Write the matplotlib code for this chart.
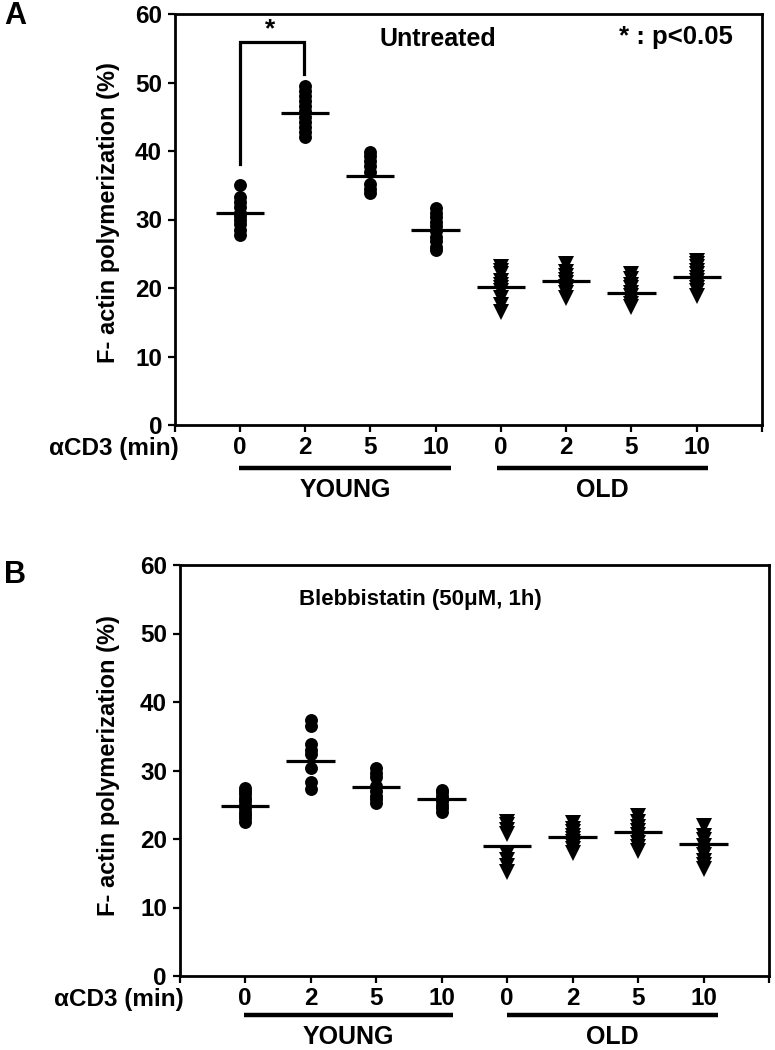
import matplotlib
matplotlib.use("Agg")
import matplotlib.pyplot as plt
import numpy as np

plt.rcParams['font.family'] = ['Liberation Sans', 'DejaVu Sans']
plt.rcParams['font.weight'] = 'bold'

groups = ["0", "2", "5", "10", "0", "2", "5", "10"]
cohorts = ["YOUNG", "OLD"]

# Panel A (untreated)
a_young0 = [35.0, 33.3, 32.5, 31.8, 31.0, 30.5, 30.0, 29.3, 28.5, 27.8]
a_young2 = [49.5, 48.8, 48.0, 47.3, 46.5, 45.8, 45.0, 44.3, 43.5, 42.8, 42.0]
a_young5 = [39.8, 39.2, 38.5, 37.8, 37.0, 35.2, 34.5, 33.8]
a_young10 = [31.7, 31.0, 30.3, 29.6, 29.0, 28.3, 27.5, 26.8, 26.0, 25.5]
a_old0 = [23.0, 22.5, 22.0, 21.0, 20.5, 20.0, 19.5, 18.5, 17.5, 16.5]
a_old2 = [23.5, 22.3, 21.8, 21.2, 20.7, 20.2, 19.7, 19.2, 18.6]
a_old5 = [22.0, 21.3, 20.5, 20.0, 19.3, 18.8, 18.3, 17.7, 17.2]
a_old10 = [24.0, 23.5, 23.0, 22.5, 22.0, 21.5, 21.0, 20.5, 20.0, 19.5, 18.8]
a_means = [31.0, 45.6, 36.4, 28.4, 20.2, 21.0, 19.2, 21.6]

# Panel B (blebbistatin)
b_young0 = [27.5, 27.0, 26.5, 26.0, 25.5, 25.0, 24.5, 24.0, 23.5, 23.0, 22.5]
b_young2 = [37.3, 36.5, 33.8, 33.0, 32.4, 30.3, 28.3, 27.3]
b_young5 = [30.3, 29.7, 29.0, 27.8, 27.0, 26.3, 25.8, 25.3]
b_young10 = [27.2, 26.8, 26.3, 25.8, 25.5, 25.0, 24.5, 24.0]
b_old0 = [22.5, 22.0, 21.3, 20.8, 17.8, 17.0, 16.0, 15.2]
b_old2 = [22.4, 21.5, 21.0, 20.5, 20.0, 19.5, 19.0, 18.5, 18.0]
b_old5 = [23.3, 22.5, 21.8, 21.2, 20.6, 20.0, 19.4, 18.8, 18.3]
b_old10 = [21.9, 20.5, 19.8, 19.0, 18.3, 17.6, 16.8, 16.2, 15.6]
b_means = [24.8, 31.4, 27.6, 25.8, 19.0, 20.3, 21.0, 19.3]

a_data = [a_young0, a_young2, a_young5, a_young10, a_old0, a_old2, a_old5, a_old10]
b_data = [b_young0, b_young2, b_young5, b_young10, b_old0, b_old2, b_old5, b_old10]

W, H = 775, 1050
fig = plt.figure(figsize=(W / 100, H / 100), dpi=100)

def box(l, r, t, b):
    return [l / W, 1 - b / H, (r - l) / W, (b - t) / H]

axA = fig.add_axes(box(174.5, 762, 14, 425))
axB = fig.add_axes(box(179.5, 769, 565, 976))

tickfont = dict(family=['Liberation Sans', 'DejaVu Sans'], weight='bold', size=17.5)

def setup(ax, data, means, bars, ylab_x, ylab_y, bar_y, lab_y):
    pos = np.arange(1, len(data) + 1)
    for i, (p, vals) in enumerate(zip(pos, data)):
        marker = 'o' if i < 4 else 'v'
        ms = 9.3 if i < 4 else 11
        ax.plot(np.full(len(vals), p), vals, linestyle='none', marker=marker,
                markersize=ms, color='black', markeredgewidth=0, zorder=3)
        ax.plot([p - 0.37, p + 0.37], [means[i], means[i]], color='black',
                lw=2.3, solid_capstyle='butt', zorder=4)
    ax.set_xlim(0, 9)
    ax.set_ylim(0, 60)
    ax.set_yticks(np.arange(0, 61, 10))
    ax.set_yticklabels([str(v) for v in range(0, 61, 10)], fontdict=tickfont)
    ax.set_xticks(np.arange(0, 10))
    ax.set_xticklabels([''] + groups + [''], fontdict=tickfont)
    for s in ax.spines.values():
        s.set_linewidth(2.0)
    ax.tick_params(direction='out', length=5, width=1.6, color='black')
    ax.tick_params(axis='x', pad=3)
    ax.tick_params(axis='y', pad=4)
    ax.set_ylabel("F- actin polymerization (%)", fontsize=17, fontweight='bold')
    ax.yaxis.set_label_coords(ylab_x, ylab_y)
    ax.annotate("\u03b1CD3 (min)", xy=(0, 0), xycoords='data',
                xytext=(3, -17), textcoords='offset points', ha='right',
                va='center', **tickfont)
    tr = ax.get_xaxis_transform()
    for (x0, x1), lab in zip(bars, cohorts):
        ax.plot([x0, x1], [bar_y, bar_y], transform=tr, color='black', lw=3.2,
                clip_on=False, solid_capstyle='butt')
        ax.text((x0 + x1) / 2, lab_y, lab, transform=tr, ha='center', va='center',
                fontsize=18, fontweight='bold')

setup(axA, a_data, a_means, [(0.99, 4.23), (4.94, 8.17)], -0.093, 0.518, -0.105, -0.158)
setup(axB, b_data, b_means, [(0.98, 4.18), (5.0, 8.22)], -0.101, 0.513, -0.095, -0.148)

# significance bracket in A
axA.plot([1, 1, 1.98, 1.98], [38.1, 55.9, 55.9, 51.2], color='black', lw=2.3,
         solid_joinstyle='miter', zorder=2)
axA.text(1.46, 56.0, "*", ha='center', va='bottom', fontsize=19, fontweight='bold')
axA.text(4.03, 56.4, "Untreated", ha='center', va='center', fontsize=18,
         fontweight='bold')
axA.text(7.68, 56.6, "* : p<0.05", ha='center', va='center', fontsize=18.5,
         fontweight='bold')
axB.text(3.67, 54.9, "Blebbistatin (50\u03bcM, 1h)", ha='center', va='center',
         fontsize=16, fontweight='bold')

fig.text(4 / W, 1 - 16 / H, "A", ha='left', va='center', fontsize=22, fontweight='bold')
fig.text(4 / W, 1 - 575 / H, "B", ha='left', va='center', fontsize=22, fontweight='bold')

fig.savefig("out.png", dpi=100)
